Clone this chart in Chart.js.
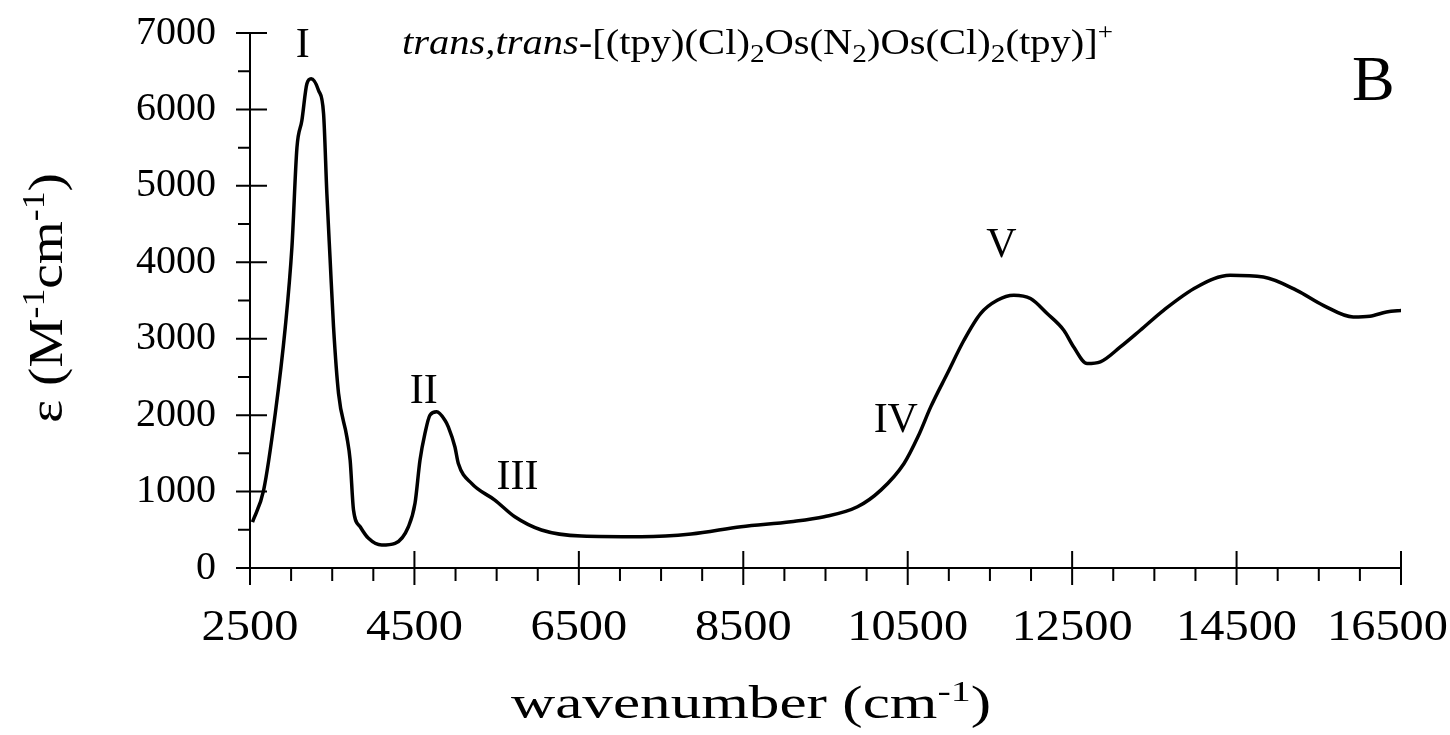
<!DOCTYPE html>
<html>
<head>
<meta charset="utf-8">
<script src="https://cdn.jsdelivr.net/npm/chart.js@4/dist/chart.umd.min.js"></script>
<style>
html,body{margin:0;padding:0;background:#fff;}
#wrap{width:1450px;height:735px;position:relative;background:#fff;}
canvas{display:block;}
</style>
</head>
<body>
<div id="wrap"><canvas id="c" width="1450" height="735" style="width:1450px;height:735px"></canvas></div>
<script>
// ---- data ----
const wavenumber = [2530, 2666, 2807, 2929, 3010, 3071, 3131, 3192, 3244, 3334, 3395, 3435, 3475, 3516, 3577, 3678, 3718, 3759, 3840, 3941, 4102, 4264, 4427, 4507, 4568, 4628, 4689, 4770, 4871, 4912, 4992, 5034, 5195, 5478, 5721, 6045, 6531, 7259, 7866, 8473, 9080, 9484, 9889, 10173, 10455, 10630, 10780, 10982, 11184, 11386, 11589, 11791, 11993, 12196, 12398, 12519, 12682, 12843, 13086, 13329, 13612, 14017, 14421, 14826, 15231, 15554, 15919, 16121, 16324, 16520];
const epsilon = [600, 1020, 2020, 3150, 4200, 5500, 5855, 6335, 6400, 6248, 5943, 4897, 4026, 3154, 2283, 1716, 1412, 758, 540, 388, 300, 322, 540, 846, 1412, 1760, 2000, 2043, 1934, 1847, 1586, 1368, 1107, 889, 670, 497, 418, 409, 444, 540, 605, 670, 801, 1019, 1368, 1730, 2108, 2545, 2980, 3329, 3503, 3568, 3525, 3329, 3111, 2892, 2675, 2697, 2892, 3111, 3372, 3677, 3829, 3807, 3633, 3437, 3285, 3294, 3350, 3370];
const xTickValues = [2500, 4500, 6500, 8500, 10500, 12500, 14500, 16500];
const yTickValues = [0, 1000, 2000, 3000, 4000, 5000, 6000, 7000];
const bandLabels = ['I', 'II', 'III', 'IV', 'V'];
const bandWavenumber = [3143, 4612, 5754, 10355, 11641];
const bandEpsilon = [6836, 2300, 1176, 1921, 4209];

// ---- styling / layout ----
const SERIF = '"Liberation Serif", "Times New Roman", serif';
const CHART_LEFT = 250, CHART_TOP = 33, CHART_RIGHT = 1401, CHART_BOTTOM = 568;
const W = 1450, H = 735;

function drawRich(ctx, segs, targetW) {
  let w = 0;
  segs.forEach(s => { ctx.font = s.font; s.w = ctx.measureText(s.t).width; w += s.w; });
  const sx = targetW ? targetW / w : 1;
  ctx.scale(sx, 1);
  let cx = 0;
  segs.forEach(s => { ctx.font = s.font; ctx.fillText(s.t, cx, s.dy || 0); cx += s.w; });
  return w * sx;
}

const decor = {
  id: 'decor',
  afterDraw(chart) {
    const ctx = chart.ctx;
    const xs = chart.scales.x, ys = chart.scales.y;
    const x0 = xs.getPixelForValue(xs.min), x1 = xs.getPixelForValue(xs.max);
    const y0 = ys.getPixelForValue(0), yTop = ys.getPixelForValue(ys.max);
    ctx.save();
    ctx.strokeStyle = '#000';
    ctx.fillStyle = '#000';
    ctx.lineWidth = 2;
    ctx.lineCap = 'butt';
    // axis lines
    ctx.beginPath();
    ctx.moveTo(x0, y0); ctx.lineTo(x1, y0);
    ctx.moveTo(x0, yTop - 1); ctx.lineTo(x0, y0 + 1);
    ctx.stroke();
    // x ticks
    ctx.beginPath();
    for (let v = xs.min; v <= xs.max + 1; v += 500) {
      const px = xs.getPixelForValue(v);
      const major = xTickValues.includes(v);
      if (major) { ctx.moveTo(px, y0 - 17); ctx.lineTo(px, y0 + 17); }
      else { ctx.moveTo(px, y0); ctx.lineTo(px, y0 + 13); }
    }
    // y ticks
    for (let v = 0; v <= ys.max + 1; v += 500) {
      const py = ys.getPixelForValue(v);
      const major = yTickValues.includes(v);
      if (major) { ctx.moveTo(x0 - 14, py); ctx.lineTo(x0 + 17, py); }
      else { ctx.moveTo(x0 - 12, py); ctx.lineTo(x0, py); }
    }
    ctx.stroke();

    // x tick labels (placed with the x scale, kept inside the canvas)
    ctx.font = '44px ' + SERIF;
    ctx.textAlign = 'left';
    ctx.textBaseline = 'alphabetic';
    const stretch = 1.1;
    xs.ticks.forEach(t => {
      const txt = String(t.value);
      const w = ctx.measureText(txt).width * stretch;
      let left = xs.getPixelForValue(t.value) - w / 2;
      if (left + w > W - 2) left = W - 2 - w;
      ctx.save();
      ctx.translate(left, 640);
      ctx.scale(stretch, 1);
      ctx.fillText(txt, 0, 0);
      ctx.restore();
    });

    // band labels (positioned in data coordinates)
    ctx.font = '42px ' + SERIF;
    ctx.textAlign = 'center';
    ctx.textBaseline = 'middle';
    bandLabels.forEach((lab, i) => {
      ctx.fillText(lab, xs.getPixelForValue(bandWavenumber[i]), ys.getPixelForValue(bandEpsilon[i]));
    });

    ctx.textAlign = 'left';
    ctx.textBaseline = 'alphabetic';
    // title
    const f = 36, fs = 26;
    ctx.save();
    ctx.translate(402, 54);
    drawRich(ctx, [
      { t: 'trans,trans', font: 'italic ' + f + 'px ' + SERIF },
      { t: '-[(tpy)(Cl)', font: f + 'px ' + SERIF },
      { t: '2', font: fs + 'px ' + SERIF, dy: 8 },
      { t: 'Os(N', font: f + 'px ' + SERIF },
      { t: '2', font: fs + 'px ' + SERIF, dy: 8 },
      { t: ')Os(Cl)', font: f + 'px ' + SERIF },
      { t: '2', font: fs + 'px ' + SERIF, dy: 8 },
      { t: '(tpy)]', font: f + 'px ' + SERIF },
      { t: '+', font: '24px ' + SERIF, dy: -15 }
    ], 711);
    ctx.restore();

    // panel letter
    ctx.font = '64px ' + SERIF;
    ctx.fillText('B', 1352, 100);

    // x axis title
    ctx.save();
    ctx.translate(511, 718);
    drawRich(ctx, [
      { t: 'wavenumber (cm', font: '46px ' + SERIF },
      { t: '-1', font: '30px ' + SERIF, dy: -17 },
      { t: ')', font: '46px ' + SERIF }
    ], 480);
    ctx.restore();

    // y axis title (rotated)
    ctx.save();
    ctx.translate(62, 423);
    ctx.rotate(-Math.PI / 2);
    drawRich(ctx, [
      { t: '\u03B5 (M', font: '48px ' + SERIF },
      { t: '-1', font: '31px ' + SERIF, dy: -18 },
      { t: 'cm', font: '48px ' + SERIF },
      { t: '-1', font: '31px ' + SERIF, dy: -18 },
      { t: ')', font: '48px ' + SERIF }
    ], 250);
    ctx.restore();

    ctx.restore();
  }
};

const chart = new Chart(document.getElementById('c'), {
  type: 'line',
  data: {
    datasets: [{
      data: wavenumber.map((v, i) => ({ x: v, y: epsilon[i] })),
      borderColor: '#000',
      borderWidth: 3.5,
      pointRadius: 0,
      fill: false,
      cubicInterpolationMode: 'monotone'
    }]
  },
  options: {
    responsive: false,
    animation: false,
    devicePixelRatio: 1,
    layout: { padding: { left: 0, top: CHART_TOP, right: W - CHART_RIGHT, bottom: 0 } },
    plugins: { legend: { display: false }, tooltip: { enabled: false }, title: { display: false } },
    scales: {
      x: {
        type: 'linear',
        min: 2500, max: 16500,
        grid: { display: false, drawTicks: false },
        border: { display: false },
        afterBuildTicks: s => { s.ticks = xTickValues.map(v => ({ value: v })); },
        afterFit: s => { s.height = H - CHART_BOTTOM; s.paddingLeft = 0; s.paddingRight = 0; },
        ticks: { display: false, autoSkip: false }
      },
      y: {
        min: 0, max: 7000,
        grid: { display: false, drawTicks: false },
        border: { display: false },
        afterBuildTicks: s => { s.ticks = yTickValues.map(v => ({ value: v })); },
        afterFit: s => { s.width = CHART_LEFT; s.paddingTop = 0; s.paddingBottom = 0; },
        ticks: {
          color: '#000', padding: 34, autoSkip: false,
          font: { family: SERIF, size: 40 },
          callback: v => String(v)
        }
      }
    }
  },
  plugins: [decor]
});
</script>
</body>
</html>
